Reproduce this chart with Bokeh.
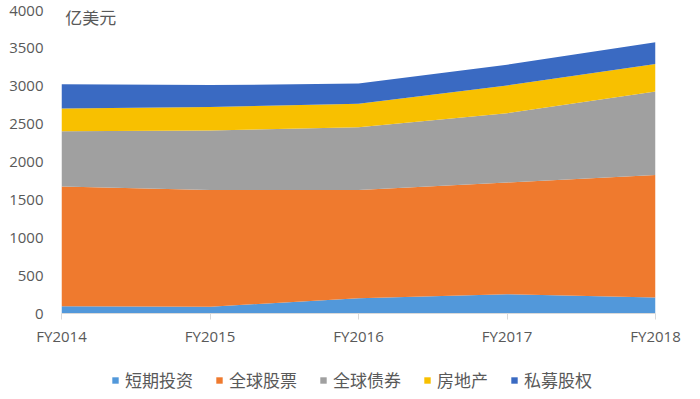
from bokeh.plotting import figure
from bokeh.layouts import column
from bokeh.models import ColumnDataSource, Range1d, FixedTicker, Legend, LegendItem, Label
from bokeh.embed import file_html
from bokeh.resources import INLINE

years = ["FY2014", "FY2015", "FY2016", "FY2017", "FY2018"]
names = ["短期投资", "全球股票", "全球债券", "房地产", "私募股权"]
short_term = [95, 90, 200, 255, 210]
global_equity = [1580, 1540, 1430, 1475, 1620]
global_bonds = [730, 785, 830, 915, 1100]
real_estate = [300, 310, 310, 365, 365]
private_equity = [320, 290, 265, 275, 285]
y_ticks = [0, 500, 1000, 1500, 2000, 2500, 3000, 3500, 4000]
colors = ["#5298DA", "#EF7A2E", "#A0A0A0", "#F8C000", "#3A6AC2"]

xs = list(range(len(years)))
source = ColumnDataSource(data={
    "x": xs,
    names[0]: short_term,
    names[1]: global_equity,
    names[2]: global_bonds,
    names[3]: real_estate,
    names[4]: private_equity,
})

FONT = "Open Sans"
CJK = "Noto Sans CJK SC"
TXT = "#595959"

main = figure(width=700, height=359, output_backend="svg", toolbar_location=None,
              x_range=Range1d(0, len(years) - 1), y_range=Range1d(0, 4000),
              min_border_left=61, min_border_right=45, min_border_top=10,
              min_border_bottom=46)
main.outline_line_color = None
main.grid.visible = False

main.varea_stack(stackers=names, x="x", color=colors, source=source)

main.xaxis.ticker = FixedTicker(ticks=xs)
main.xaxis.major_label_overrides = {i: y for i, y in enumerate(years)}
main.xaxis.axis_line_color = "#D9D9D9"
main.xaxis.major_tick_line_color = "#D9D9D9"
main.xaxis.major_tick_out = 6
main.xaxis.major_tick_in = 0
main.xaxis.minor_tick_line_color = None
main.xaxis.major_label_text_font = FONT
main.xaxis.major_label_text_font_size = "15px"
main.xaxis.major_label_text_color = TXT
main.xaxis.major_label_standoff = 6

main.yaxis.ticker = FixedTicker(ticks=y_ticks)
main.yaxis.axis_line_color = None
main.yaxis.major_tick_line_color = None
main.yaxis.minor_tick_line_color = None
main.yaxis.major_label_text_font = FONT
main.yaxis.major_label_text_font_size = "15px"
main.yaxis.major_label_text_color = TXT
main.yaxis.major_label_standoff = 12

unit = Label(x=0.025, y=3920, text="亿美元", text_font=CJK,
             text_font_size="17px", text_color=TXT, text_baseline="middle")
main.add_layout(unit)

# legend strip below the chart (dummy one-point areas only provide swatches)
leg = figure(width=700, height=40, output_backend="svg", toolbar_location=None,
             x_axis_location=None, y_axis_location=None,
             x_range=Range1d(0, 1), y_range=Range1d(0, 1),
             min_border_left=0, min_border_right=0, min_border_top=0,
             min_border_bottom=0)
leg.outline_line_color = None
leg.grid.visible = False
dummy = ColumnDataSource(data={"x": [0], "y1": [0], "y2": [0]})
swatches = [leg.varea(x="x", y1="y1", y2="y2", fill_color=c, source=dummy)
            for c in colors]

legend = Legend(items=[LegendItem(label=n, renderers=[r]) for n, r in zip(names, swatches)],
                orientation="horizontal", location=(50, 7),
                glyph_width=8, glyph_height=8, label_standoff=6, spacing=22,
                padding=0, margin=0, border_line_color=None,
                background_fill_alpha=0,
                label_text_font=CJK, label_text_font_size="17px",
                label_text_color=TXT)
leg.add_layout(legend, "center")

p = column(main, leg, spacing=0)

open("out.html", "w").write(file_html(p, INLINE))
